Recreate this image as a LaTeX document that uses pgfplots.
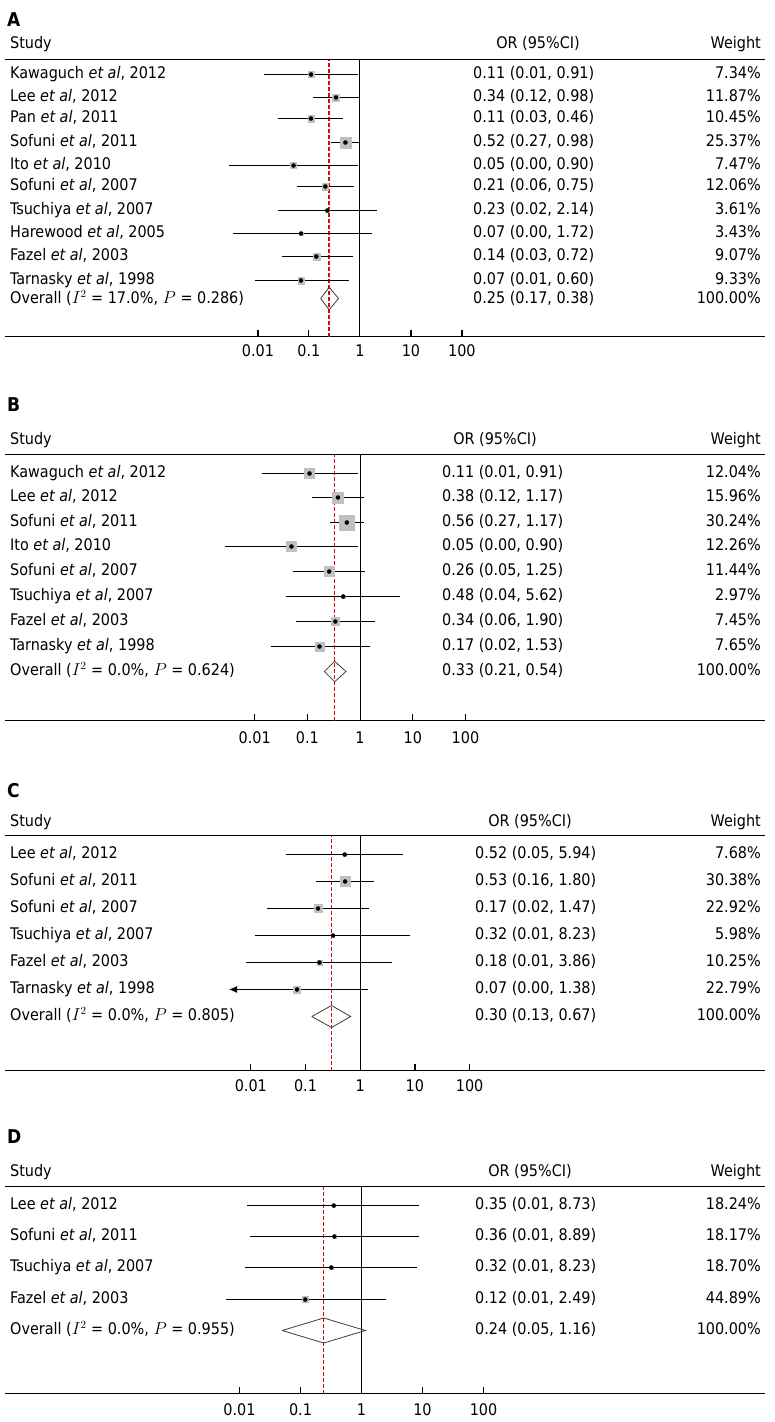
\documentclass[border=0pt]{standalone}
\usepackage{fontspec}
\setmainfont{DejaVu Sans Condensed}
\usepackage{pgfplots}
\pgfplotsset{compat=1.18}
\usetikzlibrary{arrows.meta}
\definecolor{refred}{RGB}{205,15,15}
\definecolor{boxgray}{RGB}{192,192,192}
\definecolor{diamcol}{RGB}{60,60,60}

% lo, or, hi, y(px), half box size
\newcommand{\fpstudy}[5]{%
  \addplot[black, line width=1pt, no markers] coordinates {(#1,-#4) (#3,-#4)};
  \addplot[only marks, mark=square*, color=boxgray, mark size=#5pt] coordinates {(#2,-#4)};
  \addplot[only marks, mark=*, black, mark size=2pt] coordinates {(#2,-#4)};}

% tick marks (relative x positions of 0.01, 0.1, 10, 100 on the bottom line)
\newcommand{\fpticks}[4]{%
  \draw[black, line width=1.2pt] (rel axis cs:#1,0) -- ++(0pt,6.5pt);
  \draw[black, line width=1.2pt] (rel axis cs:#2,0) -- ++(0pt,6.5pt);
  \draw[black, line width=1.2pt] (rel axis cs:#3,0) -- ++(0pt,6.5pt);
  \draw[black, line width=1.2pt] (rel axis cs:#4,0) -- ++(0pt,6.5pt);}

% y(px), name, OR text, weight, x of OR column
\newcommand{\fprow}[5]{%
  \node[anchor=base west] at (10,{-#1-4.3}) {#2};
  \node[anchor=base west] at (#5,{-#1-4.3}) {#3};
  \node[anchor=base east] at (761,{-#1-4.3}) {#4};}

% letter, letter baseline, study baseline, OR header centre
\newcommand{\fphead}[4]{%
  \node[anchor=base west, font=\fontsize{19pt}{21pt}\selectfont\bfseries] at (7,-#2) {#1};
  \node[anchor=base west] at (10,-#3) {Study};
  \node[anchor=base] at (#4,-#3) {OR (95\%CI)};
  \node[anchor=base east] at (761,-#3) {Weight};}

\begin{document}
\fontsize{16pt}{19pt}\selectfont
\begin{tikzpicture}[x=1pt,y=1pt,inner sep=0pt]
\useasboundingbox (0,0) rectangle (775,-1422);

% ---------------- Panel A ----------------
\begin{axis}[scale only axis, width=760pt, height=277pt,
  at={(9,-336.5)}, anchor=south west,
  x filter/.expression={log10(x)},
  ymin=-336.5, ymax=-59.5, xmin=-6.967, xmax=7.935,
  axis x line=box, axis y line=none,
  xtick={-2,-1,0,1,2}, xticklabels={0.01,0.1,1,10,100},
  major tick length=0pt, minor tick num=0,
  axis line style={line width=1pt, black},
  xticklabel style={anchor=base, yshift=-20.2pt},
  clip=false]
\addplot[black, line width=1pt, no markers] coordinates {(1,-336.5) (1,-59.5)};
\addplot[refred, line width=1.5pt, dash pattern=on 4pt off 2pt, no markers] coordinates {(0.25,-336.5) (0.25,-59.5)};
\fpstudy{0.0131}{0.11}{0.91}{74.5}{3.0}
\fpstudy{0.12}{0.34}{0.98}{97.5}{3.65}
\fpstudy{0.025}{0.11}{0.46}{118.5}{3.2}
\fpstudy{0.27}{0.52}{0.98}{142.5}{5.6}
\fpstudy{0.00266}{0.05}{0.90}{165.5}{3.0}
\fpstudy{0.058}{0.21}{0.75}{186.5}{3.3}
\fpstudy{0.0244}{0.23}{2.14}{210.5}{1.7}
\fpstudy{0.0032}{0.07}{1.72}{233.5}{1.7}
\fpstudy{0.0296}{0.14}{0.72}{256.5}{3.6}
\fpstudy{0.0086}{0.07}{0.60}{280.5}{3.2}
\addplot[diamcol, line width=0.8pt, no markers, line join=miter] coordinates {(0.17,-298.5) (0.25,-287.2) (0.38,-298.5) (0.25,-309.8) (0.17,-298.5)};
\fpticks{0.33331}{0.40041}{0.53463}{0.60173}
\end{axis}
\fphead{A}{26}{48.3}{538}
\fprow{74.5}{Kawaguch \textit{et al}, 2012}{0.11 (0.01, 0.91)}{7.34\%}{473}
\fprow{97.5}{Lee \textit{et al}, 2012}{0.34 (0.12, 0.98)}{11.87\%}{473}
\fprow{118.5}{Pan \textit{et al}, 2011}{0.11 (0.03, 0.46)}{10.45\%}{473}
\fprow{142.5}{Sofuni \textit{et al}, 2011}{0.52 (0.27, 0.98)}{25.37\%}{473}
\fprow{165.5}{Ito \textit{et al}, 2010}{0.05 (0.00, 0.90)}{7.47\%}{473}
\fprow{186.5}{Sofuni \textit{et al}, 2007}{0.21 (0.06, 0.75)}{12.06\%}{473}
\fprow{210.5}{Tsuchiya \textit{et al}, 2007}{0.23 (0.02, 2.14)}{3.61\%}{473}
\fprow{233.5}{Harewood \textit{et al}, 2005}{0.07 (0.00, 1.72)}{3.43\%}{473}
\fprow{256.5}{Fazel \textit{et al}, 2003}{0.14 (0.03, 0.72)}{9.07\%}{473}
\fprow{280.5}{Tarnasky \textit{et al}, 1998}{0.07 (0.01, 0.60)}{9.33\%}{473}
\fprow{299.5}{Overall ($I^2$ = 17.0\%, $P$ = 0.286)}{0.25 (0.17, 0.38)}{100.00\%}{473}

% ---------------- Panel B ----------------
\begin{axis}[scale only axis, width=760pt, height=266pt,
  at={(9,-720.5)}, anchor=south west,
  x filter/.expression={log10(x)},
  ymin=-720.5, ymax=-454.5, xmin=-6.742, xmax=7.679,
  axis x line=box, axis y line=none,
  xtick={-2,-1,0,1,2}, xticklabels={0.01,0.1,1,10,100},
  major tick length=0pt, minor tick num=0,
  axis line style={line width=1pt, black},
  xticklabel style={anchor=base, yshift=-22.8pt},
  clip=false]
\addplot[black, line width=1pt, no markers] coordinates {(1,-720.5) (1,-454.5)};
\addplot[refred, line width=1.5pt, dash pattern=on 4pt off 2pt, no markers] coordinates {(0.33,-720.5) (0.33,-454.5)};
\fpstudy{0.0136}{0.11}{0.91}{473.5}{4.85}
\fpstudy{0.123}{0.38}{1.17}{497.5}{5.3}
\fpstudy{0.266}{0.56}{1.17}{522.5}{7.5}
\fpstudy{0.0027}{0.05}{0.90}{546.5}{4.85}
\fpstudy{0.053}{0.26}{1.25}{571.5}{5.15}
\fpstudy{0.04}{0.48}{5.62}{596.5}{1.8}
\fpstudy{0.06}{0.34}{1.90}{621.5}{4.15}
\fpstudy{0.02}{0.17}{1.53}{646.5}{4.35}
\addplot[diamcol, line width=0.8pt, no markers, line join=miter] coordinates {(0.21,-671.5) (0.33,-661.2) (0.54,-671.5) (0.33,-681.8) (0.21,-671.5)};
\fpticks{0.32883}{0.39817}{0.53685}{0.60620}
\end{axis}
\fphead{B}{411.7}{444.3}{495}
\fprow{473.5}{Kawaguch \textit{et al}, 2012}{0.11 (0.01, 0.91)}{12.04\%}{442}
\fprow{497.5}{Lee \textit{et al}, 2012}{0.38 (0.12, 1.17)}{15.96\%}{442}
\fprow{522.5}{Sofuni \textit{et al}, 2011}{0.56 (0.27, 1.17)}{30.24\%}{442}
\fprow{546.5}{Ito \textit{et al}, 2010}{0.05 (0.00, 0.90)}{12.26\%}{442}
\fprow{571.5}{Sofuni \textit{et al}, 2007}{0.26 (0.05, 1.25)}{11.44\%}{442}
\fprow{596.5}{Tsuchiya \textit{et al}, 2007}{0.48 (0.04, 5.62)}{2.97\%}{442}
\fprow{621.5}{Fazel \textit{et al}, 2003}{0.34 (0.06, 1.90)}{7.45\%}{442}
\fprow{646.5}{Tarnasky \textit{et al}, 1998}{0.17 (0.02, 1.53)}{7.65\%}{442}
\fprow{671.5}{Overall ($I^2$ = 0.0\%, $P$ = 0.624)}{0.33 (0.21, 0.54)}{100.00\%}{442}

% ---------------- Panel C ----------------
\begin{axis}[scale only axis, width=760pt, height=235pt,
  at={(9,-1070.5)}, anchor=south west,
  x filter/.expression={log10(x)},
  ymin=-1070.5, ymax=-835.5, xmin=-6.495, xmax=7.399,
  axis x line=box, axis y line=none,
  xtick={-2,-1,0,1,2}, xticklabels={0.01,0.1,1,10,100},
  major tick length=0pt, minor tick num=0,
  axis line style={line width=1pt, black},
  xticklabel style={anchor=base, yshift=-20.5pt},
  clip=false]
\addplot[black, line width=1pt, no markers] coordinates {(1,-1070.5) (1,-835.5)};
\addplot[refred, line width=1.5pt, dash pattern=on 4pt off 2pt, no markers] coordinates {(0.30,-1070.5) (0.30,-835.5)};
\fpstudy{0.044}{0.52}{5.94}{854.5}{1.5}
\fpstudy{0.155}{0.53}{1.80}{881.5}{5.0}
\fpstudy{0.0197}{0.17}{1.47}{908.5}{4.15}
\fpstudy{0.0119}{0.32}{8.23}{935.5}{1.5}
\fpstudy{0.0081}{0.18}{3.86}{962.5}{2.65}
\addplot[black, line width=1pt, no markers, -{Latex[length=8pt,width=7pt]}] coordinates {(1.38,-989.5) (0.0040,-989.5)};
\addplot[only marks, mark=square*, color=boxgray, mark size=3.65pt] coordinates {(0.07,-989.5)};
\addplot[only marks, mark=*, black, mark size=2pt] coordinates {(0.07,-989.5)};
\addplot[diamcol, line width=0.8pt, no markers, line join=miter] coordinates {(0.13,-1016.5) (0.30,-1005.5) (0.67,-1016.5) (0.30,-1027.5) (0.13,-1016.5)};
\fpticks{0.32352}{0.39550}{0.53944}{0.61141}
\end{axis}
\fphead{C}{797.7}{826.7}{530}
\fprow{854.5}{Lee \textit{et al}, 2012}{0.52 (0.05, 5.94)}{7.68\%}{475}
\fprow{881.5}{Sofuni \textit{et al}, 2011}{0.53 (0.16, 1.80)}{30.38\%}{475}
\fprow{908.5}{Sofuni \textit{et al}, 2007}{0.17 (0.02, 1.47)}{22.92\%}{475}
\fprow{935.5}{Tsuchiya \textit{et al}, 2007}{0.32 (0.01, 8.23)}{5.98\%}{475}
\fprow{962.5}{Fazel \textit{et al}, 2003}{0.18 (0.01, 3.86)}{10.25\%}{475}
\fprow{989.5}{Tarnasky \textit{et al}, 1998}{0.07 (0.00, 1.38)}{22.79\%}{475}
\fprow{1016.5}{Overall ($I^2$ = 0.0\%, $P$ = 0.805)}{0.30 (0.13, 0.67)}{100.00\%}{475}

% ---------------- Panel D ----------------
\begin{axis}[scale only axis, width=760pt, height=207pt,
  at={(9,-1393.5)}, anchor=south west,
  x filter/.expression={log10(x)},
  ymin=-1393.5, ymax=-1186.5, xmin=-5.836, xmax=6.623,
  axis x line=box, axis y line=none,
  xtick={-2,-1,0,1,2}, xticklabels={0.01,0.1,1,10,100},
  major tick length=0pt, minor tick num=0,
  axis line style={line width=1pt, black},
  xticklabel style={anchor=base, yshift=-21.5pt},
  clip=false]
\addplot[black, line width=1pt, no markers] coordinates {(1,-1393.5) (1,-1186.5)};
\addplot[refred, line width=1.5pt, dash pattern=on 4pt off 2pt, no markers] coordinates {(0.24,-1393.5) (0.24,-1186.5)};
\fpstudy{0.0135}{0.35}{8.73}{1205.5}{1.5}
\fpstudy{0.0146}{0.36}{8.89}{1236.5}{1.5}
\fpstudy{0.0125}{0.32}{8.23}{1267.5}{1.5}
\fpstudy{0.0061}{0.12}{2.49}{1299.5}{2.85}
\addplot[diamcol, line width=0.8pt, no markers, line join=miter] coordinates {(0.05,-1330.5) (0.24,-1318) (1.16,-1330.5) (0.24,-1343) (0.05,-1330.5)};
\fpticks{0.30789}{0.38815}{0.54868}{0.62894}
\end{axis}
\fphead{D}{1143.3}{1176}{530}
\fprow{1205.5}{Lee \textit{et al}, 2012}{0.35 (0.01, 8.73)}{18.24\%}{475}
\fprow{1236.5}{Sofuni \textit{et al}, 2011}{0.36 (0.01, 8.89)}{18.17\%}{475}
\fprow{1267.5}{Tsuchiya \textit{et al}, 2007}{0.32 (0.01, 8.23)}{18.70\%}{475}
\fprow{1299.5}{Fazel \textit{et al}, 2003}{0.12 (0.01, 2.49)}{44.89\%}{475}
\fprow{1330.5}{Overall ($I^2$ = 0.0\%, $P$ = 0.955)}{0.24 (0.05, 1.16)}{100.00\%}{475}
\end{tikzpicture}
\end{document}
